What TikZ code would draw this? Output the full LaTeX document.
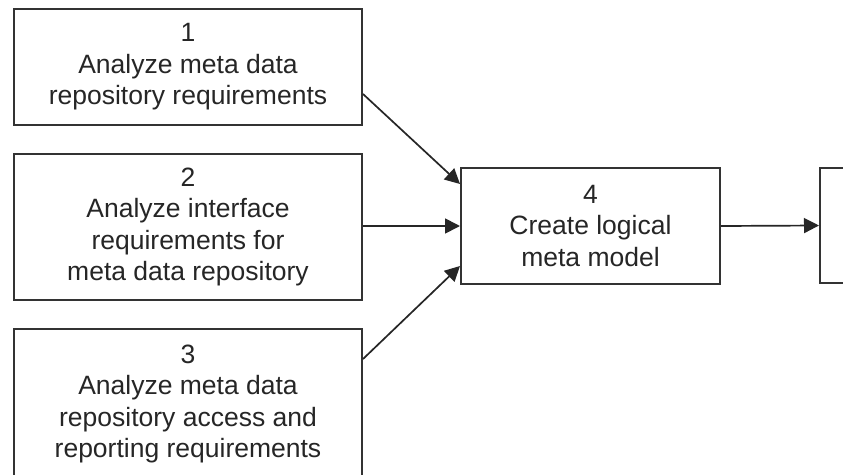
\documentclass[tikz,border=0pt]{standalone}
\usepackage{fontspec}
\setmainfont{Liberation Sans}
\usetikzlibrary{arrows.meta,calc}
\begin{document}
\begin{tikzpicture}[x=1pt,y=-1pt,
  box/.style={draw=black!80, line width=2pt, align=center, inner sep=0pt,
    text=black!85, font=\fontsize{26.5}{31.5}\selectfont},
  conn/.style={draw=black!85, line width=1.7pt, -{Triangle[length=15pt,width=15pt]}}]
\useasboundingbox (0,0) rectangle (843,474);
\clip (0,0) rectangle (843,474);
\fill[white] (0,0) rectangle (843,474);
\node[box, minimum width=348pt, minimum height=116pt] (b1) at (188,67)
  {1\\Analyze meta data\\repository requirements};
\node[box, minimum width=348pt, minimum height=146pt] (b2) at (188,227)
  {2\\Analyze interface\\requirements for\\meta data repository};
\node[box, minimum width=348pt, minimum height=150pt] (b3) at (188,404)
  {3\\Analyze meta data\\repository access and\\reporting requirements};
\node[box, minimum width=259pt, minimum height=116pt] (b4) at (590.5,226)
  {4\\Create logical\\meta model};
\node[box, minimum width=100pt, minimum height=115pt] (b5) at (870,225.5) {};
\draw[conn] ([yshift=32pt]b1.south east) -- ([yshift=-17pt]b4.north west);
\draw[conn] ([yshift=1pt]b2.east) -- (b4.west);
\draw[conn] ([yshift=-31pt]b3.north east) -- ([yshift=19pt]b4.south west);
\draw[conn] (b4.east) -- (b5.west);
\end{tikzpicture}
\end{document}
